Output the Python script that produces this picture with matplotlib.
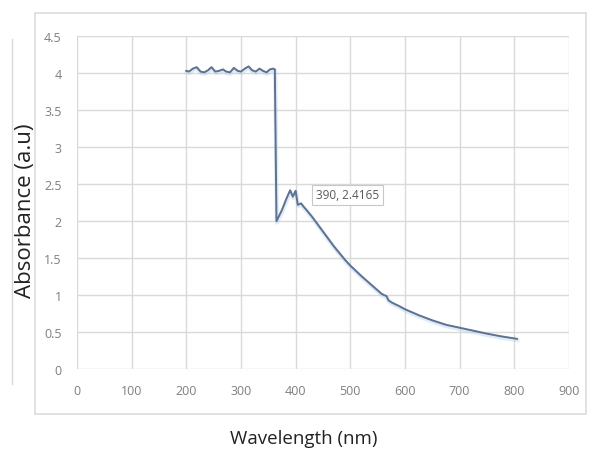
import matplotlib
matplotlib.use("Agg")
import matplotlib.pyplot as plt
import matplotlib.patheffects as pe
from matplotlib.patches import Rectangle
from matplotlib.lines import Line2D

wavelength = [200, 205, 212, 219, 226, 233, 240, 246, 253, 260, 267, 273, 280, 287,
              294, 300, 307, 314, 320, 327, 334, 340, 347, 353, 359, 362, 365,
              375, 383, 390, 395, 400, 404, 410, 414, 420, 430, 440, 450, 460,
              470, 480, 490, 500, 520, 540, 557, 562, 566, 570, 576, 590, 600,
              625, 650, 675, 700, 725, 750, 775, 805]
absorbance = [4.03, 4.02, 4.06, 4.08, 4.02, 4.01, 4.04, 4.08, 4.02, 4.03, 4.05, 4.02,
              4.01, 4.07, 4.03, 4.02, 4.06, 4.09, 4.04, 4.02, 4.06, 4.03, 4.01, 4.05,
              4.06, 4.05, 2.00,
              2.15, 2.30, 2.4165, 2.33, 2.41, 2.22, 2.24, 2.20, 2.15, 2.06, 1.96,
              1.86, 1.76, 1.66, 1.57, 1.48, 1.40, 1.26, 1.13, 1.02, 1.00, 0.99,
              0.93, 0.90, 0.85, 0.81, 0.73, 0.66, 0.60, 0.56, 0.52, 0.48, 0.445, 0.41]

x_ticks = [0, 100, 200, 300, 400, 500, 600, 700, 800, 900]
y_ticks = [0, 0.5, 1, 1.5, 2, 2.5, 3, 3.5, 4, 4.5]
y_tick_labels = ["0", "0.5", "1", "1.5", "2", "2.5", "3", "3.5", "4", "4.5"]
annot_text = "390, 2.4165"

fig = plt.figure(figsize=(5.92, 4.52), dpi=100)
fig.patch.set_facecolor("white")
ax = fig.add_axes([0.130, 0.181, 0.831, 0.737])

# outer chart box and faint left border
fig.patches.append(Rectangle((35/592, 1-415/452), (586-35)/592, (415-14)/452,
                             transform=fig.transFigure, fill=False,
                             edgecolor="#dcdcdc", linewidth=1.2))
fig.lines.append(Line2D([12/592, 12/592], [1-385/452, 1-40/452],
                        transform=fig.transFigure, color="#d8d8d8", linewidth=1.0))

ax.plot(wavelength, absorbance, color="#5b7290", linewidth=1.4, zorder=3,
        path_effects=[pe.SimpleLineShadow(offset=(0.3, -1.0), shadow_color="#b5cde6",
                                          alpha=0.4, linewidth=3.0),
                      pe.Normal()])

ax.set_xlim(0, 900)
ax.set_ylim(0, 4.5)
ax.set_xticks(x_ticks)
ax.set_yticks(y_ticks)
ax.set_yticklabels(y_tick_labels)
ax.grid(True, color="#d9d9d9", linewidth=1.0)
ax.set_axisbelow(True)
for s in ax.spines.values():
    s.set_visible(False)
ax.tick_params(length=0, labelsize=9, labelcolor="#7f7f7f")
for lab in ax.get_xticklabels() + ax.get_yticklabels():
    lab.set_fontfamily("Open Sans")
ax.tick_params(axis="x", pad=11)
ax.tick_params(axis="y", pad=11)

fig.text(316/592, 1-196/452, annot_text, fontsize=8.5, color="#595959",
         fontfamily="Open Sans", va="center", ha="left",
         bbox=dict(boxstyle="square,pad=0.3", facecolor="white", edgecolor="#c8c8c8",
                   linewidth=0.8))

fig.text(26/592, 1-211/452, "Absorbance (a.u)", rotation=90, fontsize=16,
         fontfamily="Open Sans", color="#222222", va="center", ha="center")
fig.text(304/592, 1-439/452, "Wavelength (nm)", fontsize=13.5,
         fontfamily="Open Sans", color="#222222", va="center", ha="center")

fig.savefig("out.png", dpi=100, facecolor="white")
